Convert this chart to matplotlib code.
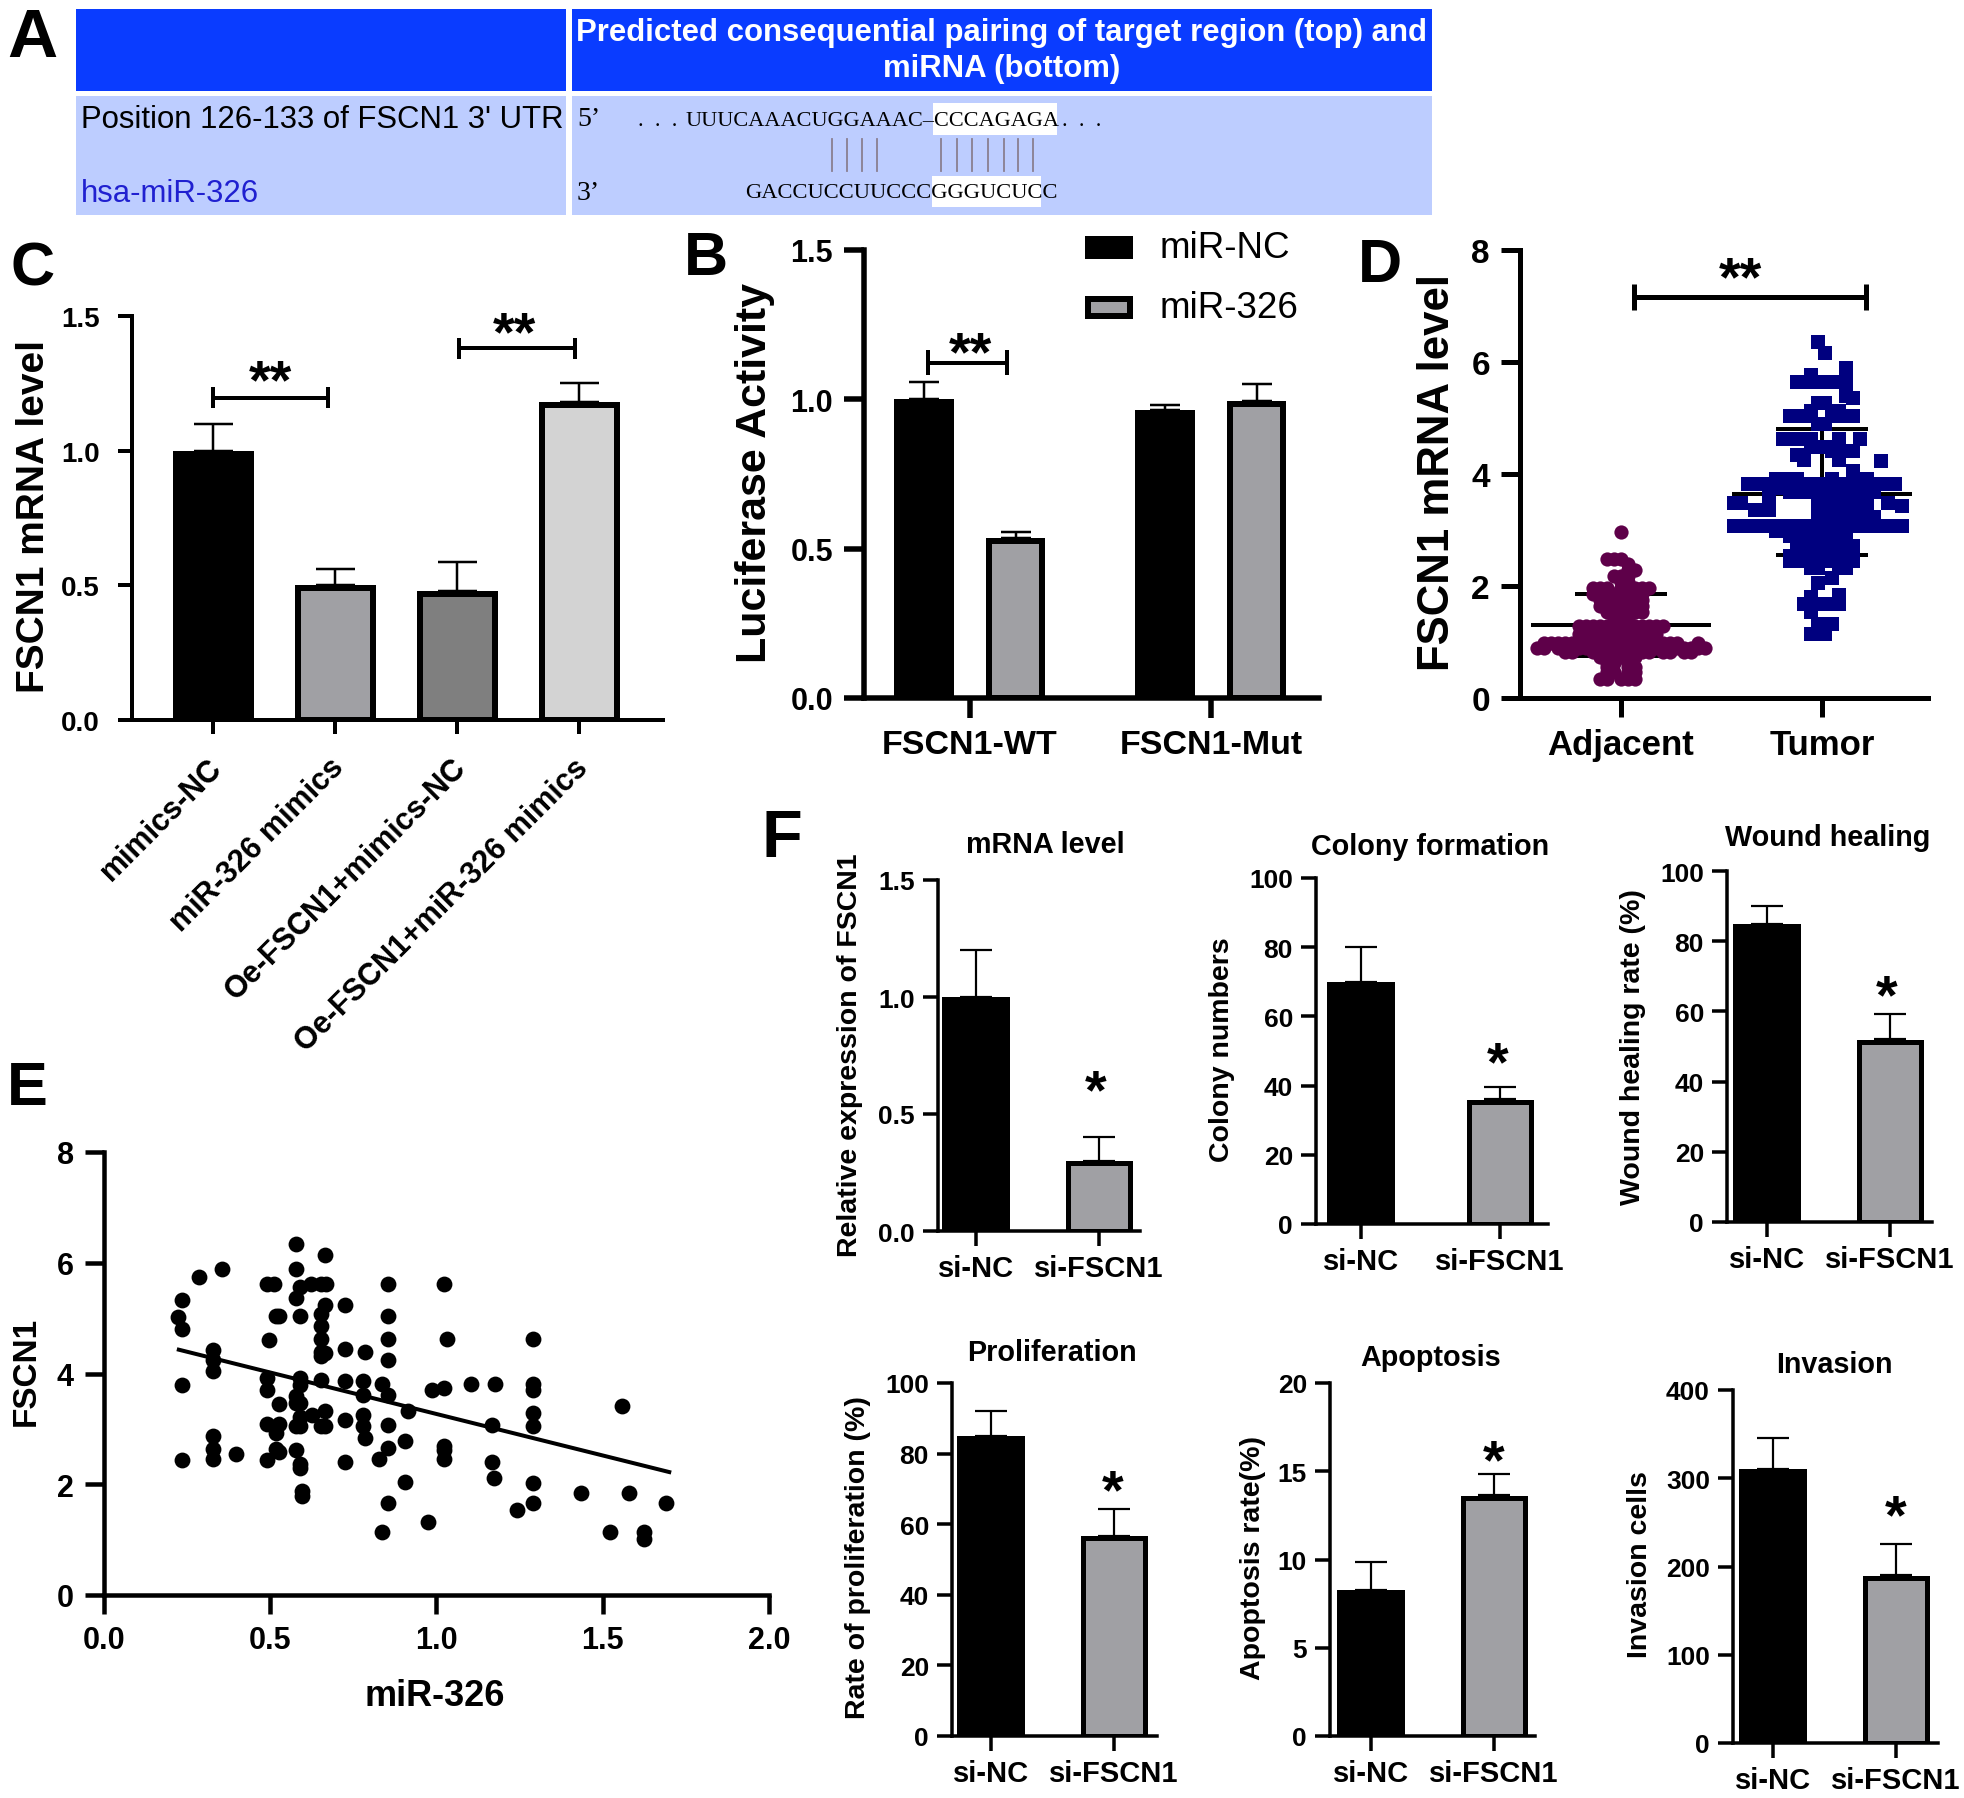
import matplotlib
matplotlib.use("Agg")
import matplotlib.pyplot as plt
from matplotlib.patches import Rectangle
from matplotlib.transforms import ScaledTranslation
import numpy as np

W, H = 1965, 1799
PX = 0.72  # one pixel in points at dpi 100

plt.rcParams['font.family'] = ['Liberation Sans', 'DejaVu Sans']

# panel C
c_labels = ['mimics-NC', 'miR-326 mimics', 'Oe-FSCN1+mimics-NC', 'Oe-FSCN1+miR-326 mimics']
c_vals = [1.0, 0.5, 0.48, 1.18]
c_tops = [1.10, 0.56, 0.585, 1.25]
c_colors = ['black', '#a0a0a4', '#7f7f7f', '#d3d3d3']

# panel B
b_groups = ['FSCN1-WT', 'FSCN1-Mut']
b_nc = [1.0, 0.965]
b_nc_tops = [1.057, 0.98]
b_326 = [0.535, 0.995]
b_326_tops = [0.556, 1.05]

# panel D, rows of the swarm: value and the slots (sideways places) taken in that row
d_labels = ['Adjacent', 'Tumor']
adj_levels = [2.97, 2.48, 2.39, 2.29, 2.18, 2.07, 1.96, 1.86, 1.75, 1.64, 1.53, 1.41, 1.29, 1.2, 1.14, 1.05, 0.99, 0.9,
              0.82, 0.73, 0.62, 0.55, 0.46, 0.34]
adj_slots = [[0], [-2, -1, 0], [1], [1, 2], [-1, 0, 1], [0, 1], [-4, -3, -2, 0, 1, 2, 3, 4], [-4, -2, -1, 0, 1, 2, 3],
             [-3, -1, 0, 1, 2, 3], [-3, -2, -1, 0, 1, 2, 3], [-2, -1, 0, 1, 2, 3], [-1, 0, 1],
             [-6, -5, -4, -3, -2, -1, 0, 1, 2, 3, 4, 5, 6], [-4, -3, -2, -1, 0, 1, 2, 3],
             [-6, -5, -4, -3, -2, -1, 0, 1, 2, 3, 4, 5], [-5, -4, -3, -2, -1, 0, 1, 2, 3, 4],
             [-11, -10, -9, -8, -7, -6, -5, -4, -3, -2, -1, 0, 1, 2, 3, 4, 5, 6, 7, 8, 11],
             [-12, -11, -9, -8, -7, -6, -5, -4, -3, -2, -1, 0, 1, 2, 3, 4, 5, 6, 7, 8, 9, 10, 11, 12],
             [-8, -7, -4, -3, -2, -1, 0, 1, 2, 3, 4, 6, 7, 9, 10], [-3, -2, -1, 0, 1, 2], [-2, -1, 1],
             [-2, 1, 2], [-2, -1, 1, 2], [-3, -2, 0, 1, 2]]
adj_stats = [0.75, 1.3, 1.85]
tum_levels = [6.35, 6.16, 5.9, 5.77, 5.64, 5.39, 5.35, 5.26, 5.13, 5.03, 4.9, 4.63, 4.49, 4.41, 4.34, 4.25, 4.24,
              4.06, 3.91, 3.82, 3.75, 3.67, 3.55, 3.49, 3.43, 3.35, 3.23, 3.08, 2.99, 2.9, 2.84, 2.72, 2.6, 2.53,
              2.45, 2.33, 2.14, 2.05, 1.84, 1.8, 1.68, 1.53, 1.33, 1.14]
tum_slots = [[0], [1], [4], [-1], [-3, -2, -1, 0, 1, 2, 3, 4], [4], [5], [0, 1], [-1, 3],
             [-4, -3, -2, -1, 2, 3, 4, 5], [0, 1], [-5, -4, -3, -2, -1, 3, 6], [-1, 0, 2], [2, 3, 4, 5],
             [-3, -2], [-2, 3], [9], [5], [-6, -5, -3, 2, 5, 6, 7],
             [-10, -9, -8, -7, -6, -5, -4, -3, -2, -1, 0, 1, 2, 3, 4, 5, 6, 7, 8, 9, 11],
             [-7, -6, -5, -4, -3, -2, -1, 0, 1, 2, 3, 4, 5, 6, 7, 8],
             [-4, -3, -2, -1, 0, 1, 2, 3, 4, 5, 6, 7, 8], [-7, 0, 1, 2, 3, 4, 5, 6, 7],
             [-12, -11, -7, 0, 1, 2, 3, 4, 5, 6, 7, 10], [12],
             [-9, -7, 0, 1, 2, 3, 4, 5, 6], [0, 1, 2, 3, 4, 5, 6, 7, 8],
             [-12, -11, -10, -9, -8, -7, -6, -5, -4, -3, -2, -1, 0, 1, 2, 3, 4, 5, 6, 7, 8, 9, 10, 11, 12],
             [-6, -5, -4, -3, -2, -1, 0, 1, 2, 3, 4], [-4, -3, -2, -1, 0, 1, 2, 3, 4],
             [-3, -2, -1, 0, 1, 2, 3], [-2, -1, 0, 1, 3, 4, 5],
             [-3, -2, -1, 0, 1, 2, 3, 4, 5], [-4, -3, -2, -1, 0, 1, 2, 3, 4, 5],
             [-4, -3, -2, -1, 0, 1, 2, 3, 4, 5], [-1, 0, 3, 4],
             [2], [0], [3], [-1], [-2, -1, 1, 2, 3], [-1], [0, 2], [-1, 0, 1]]
tum_stats = [2.55, 3.65, 4.8]

# panel E
e_x = [.222, .236, .236, .287, .356, .236, .236, .328, .328, .328, .328, .328, .328, .396, .489, .511,
       .525, .517, .495, .489, .489, .525, .489, .525, .517, .517, .525, .489, .578, .578, .589, .578,
       .589, .589, .589, .578, .578, .589, .589, .578, .589, .578, .589, .589, .594, .594, .624, .627,
       .652, .667, .666, .666, .652, .652, .652, .652, .652, .666, .652, .666, .652, .666, .725, .725,
       .725, .725, .725, .785, .779, .779, .779, .779, .785, .827, .836, .836, .854, .854, .854, .854,
       .854, .854, .854, .854, .905, .905, .913, .974, .985, 1.023, 1.031, 1.023, 1.023, 1.023, 1.023,
       1.103, 1.166, 1.166, 1.172, 1.176, 1.242, 1.291, 1.291, 1.291, 1.291, 1.291, 1.291, 1.291, 1.434,
       1.521, 1.557, 1.578, 1.624, 1.624, 1.69]
e_y = [5.02, 5.32, 4.81, 5.75, 5.88, 3.79, 2.43, 4.43, 4.25, 4.04, 2.87, 2.64, 2.45, 2.55, 5.62, 5.62,
       5.04, 5.04, 4.61, 3.91, 3.71, 3.45, 3.09, 3.08, 2.93, 2.64, 2.59, 2.43, 6.34, 5.88, 5.57, 5.36,
       5.04, 3.91, 3.79, 3.6, 3.46, 3.46, 3.21, 3.06, 3.06, 2.62, 2.36, 2.3, 1.88, 1.79, 5.62, 3.25,
       5.62, 5.62, 6.14, 5.23, 5.07, 4.86, 4.62, 4.39, 4.32, 4.37, 3.88, 3.32, 3.06, 3.06, 5.23, 4.45,
       3.86, 3.16, 2.41, 4.38, 3.86, 3.61, 3.25, 3.06, 2.84, 2.45, 3.81, 1.13, 5.62, 5.04, 4.62, 4.25,
       3.61, 3.07, 2.66, 1.66, 2.79, 2.04, 3.32, 1.32, 3.71, 5.62, 4.62, 3.74, 2.69, 2.61, 2.45,
       3.81, 3.07, 2.41, 2.12, 3.81, 1.54, 4.62, 3.81, 3.71, 3.29, 3.06, 2.02, 1.66, 1.84,
       1.13, 3.42, 1.84, 1.14, 1.02, 1.66]
e_fit_x = [0.225, 1.70]
e_fit_y = [4.43, 2.22]

# panel F
f_labels = ['si-NC', 'si-FSCN1']
mrna_vals, mrna_tops = [1.0, 0.3], [1.2, 0.4]
colony_vals, colony_tops = [70, 36], [80, 39.7]
wound_vals, wound_tops = [85, 52], [90, 59.3]
prolif_vals, prolif_tops = [85, 56.7], [92, 64.2]
apop_vals, apop_tops = [8.3, 13.65], [9.85, 14.85]
inv_vals, inv_tops = [310, 190], [346, 226]

fig = plt.figure(figsize=(W / 100, H / 100), dpi=100, facecolor='white')

# overlay in image pixels, for the table and the loose labels
bg = fig.add_axes([0, 0, 1, 1])
bg.set_xlim(0, W)
bg.set_ylim(H, 0)
bg.axis('off')


def panel_axes(left, right, y0, ytop, ymax, x_first, x_step):
    # axes whose frame sits on the given pixels, x in units of x_step px from x_first
    ax = fig.add_axes([left / W, 1 - y0 / H, (right - left) / W, (y0 - ytop) / H])
    ax.patch.set_alpha(0)
    ax.set_ylim(0, ymax)
    ax.set_xlim((left - x_first) / x_step, (right - x_first) / x_step)
    for s in ['top', 'right']:
        ax.spines[s].set_visible(False)
    return ax


def style(ax, lw, ticklen, size, pad, weight='bold', xsize=None):
    for s in ['left', 'bottom']:
        ax.spines[s].set_linewidth(lw * PX)
    ax.tick_params(width=lw * PX, length=ticklen * PX, pad=pad * PX, labelsize=size)
    ax.tick_params(axis='x', labelsize=xsize or size)
    for t in ax.get_xticklabels() + ax.get_yticklabels():
        t.set_fontweight(weight)


def bar(ax, x, val, top, color, width, edge=0, cap=38, elw=2.5):
    # the edge is centred on the rectangle, keep its outer side on the value
    per_px = ax.get_ylim()[1] / ax.get_window_extent().height
    ax.bar(x, val - edge / 2 * per_px, width=width, color=color, edgecolor='black', linewidth=edge * PX, zorder=3)
    ax.errorbar(x, val, yerr=[[0], [top - val]], color='black', elinewidth=elw * PX,
                capsize=cap / 2 * PX, capthick=elw * PX, zorder=2)


def bracket(ax, x0, x1, y, tick, lw=4):
    # tick is half height in axis units
    ax.plot([x0, x1], [y, y], color='black', lw=lw * PX, solid_capstyle='butt', clip_on=False)
    for x in (x0, x1):
        ax.plot([x, x], [y - tick, y + tick], color='black', lw=lw * PX, solid_capstyle='butt', clip_on=False)


def stars(x, y, s, size=40):
    bg.text(x, y, s, fontsize=size, ha='center', va='center', fontweight='bold')


def letter(x, y, s, size=44):
    bg.text(x, y, s, fontsize=size, fontweight='bold', ha='left', va='baseline')


def ylab(x, y, s, size, weight='bold'):
    bg.text(x, y, s, fontsize=size, rotation=90, ha='center', va='center', fontweight=weight)


# panel A, the table
bg.add_patch(Rectangle((76, 10), 490, 82, color='#0a3cff', lw=0))
bg.add_patch(Rectangle((572, 10), 860, 82, color='#0a3cff', lw=0))
bg.add_patch(Rectangle((76, 97), 490, 119, color='#bdcdff', lw=0))
bg.add_patch(Rectangle((572, 97), 860, 119, color='#bdcdff', lw=0))
bg.add_patch(Rectangle((933, 104), 124, 32, color='white', lw=0))
bg.add_patch(Rectangle((932, 177), 109, 31, color='white', lw=0))
bg.text(1002, 33, 'Predicted consequential pairing of target region (top) and', color='white',
        fontsize=22.4, fontweight='bold', ha='center', va='center')
bg.text(1002, 69, 'miRNA (bottom)', color='white', fontsize=22.4, fontweight='bold', ha='center', va='center')
bg.text(81, 120, "Position 126-133 of FSCN1 3' UTR", fontsize=22.4, ha='left', va='center')
bg.text(81, 194, 'hsa-miR-326', fontsize=22.4, color='#2020d0', ha='left', va='center')
bg.text(577, 120, "5’", fontsize=20, family='Liberation Serif', ha='left', va='center')
bg.text(577, 194, "3’", fontsize=20, family='Liberation Serif', ha='left', va='center')
bg.text(638, 122, '.  .  .', fontsize=16, family='Liberation Serif', ha='left', va='center')
bg.text(686, 122, 'UUUCAAACUGGAAAC–CCCAGAGA', fontsize=16, family='Liberation Serif', ha='left', va='center')
bg.text(1062, 122, '.  .  .', fontsize=16, family='Liberation Serif', ha='left', va='center')
bg.text(745, 194, 'GACCUCCUUCCCGGGUCUCC', fontsize=16.2, family='Liberation Serif', ha='left', va='center')
for x in [832, 847, 862, 877, 941, 957, 972, 988, 1004, 1018, 1033]:
    bg.plot([x, x], [140, 172], color='#8a7f90', lw=1.3)

# panel C
ax = panel_axes(132, 663, 721, 317, 1.5, 213, 122)
for i in range(4):
    edge = 0 if i == 0 else 6
    bar(ax, i, c_vals[i], c_tops[i], c_colors[i], (81 - edge) / 122, edge=edge, cap=39)
ax.set_xticks(range(4))
ax.set_xticklabels(c_labels, rotation=45, ha='right', rotation_mode='anchor')
ax.set_yticks([0, 0.5, 1.0, 1.5])
ax.set_yticklabels(['0.0', '0.5', '1.0', '1.5'])
style(ax, 4, 14, 20, 18, xsize=22)
for t in ax.get_xticklabels():
    t.set_transform(t.get_transform() + ScaledTranslation(-6 / 100, 0, fig.dpi_scale_trans))
bracket(ax, 0, 0.94, 1.197, 0.04)
bracket(ax, 2.02, 2.97, 1.38, 0.04)
stars(270, 384, '**')
stars(514, 336, '**')
ylab(34, 517, 'FSCN1 mRNA level', 28)

# panel B
ax = panel_axes(864, 1319, 699, 251, 1.5, 970, 241)
for i in range(2):
    bar(ax, i - 0.19, b_nc[i], b_nc_tops[i], 'black', 60 / 241, cap=30)
    bar(ax, i + 0.19, b_326[i], b_326_tops[i], '#a0a0a4', 53 / 241, edge=6, cap=30)
ax.set_xticks([0, 1])
ax.set_xticklabels(b_groups)
ax.set_yticks([0, 0.5, 1.0, 1.5])
ax.set_yticklabels(['0.0', '0.5', '1.0', '1.5'])
style(ax, 5.5, 20, 22, 11, xsize=24.5)
bracket(ax, -0.174, 0.154, 1.123, 0.043)
stars(970, 356, '**')
ylab(755, 473, 'Luciferase Activity', 31)
bg.add_patch(Rectangle((1085, 237), 48, 23, color='black', lw=0))
bg.add_patch(Rectangle((1088, 300), 42, 17, facecolor='#a0a0a4', edgecolor='black', lw=6 * PX))
bg.text(1160, 249, 'miR-NC', fontsize=26.5, ha='left', va='center')
bg.text(1160, 309, 'miR-326', fontsize=26.5, ha='left', va='center')


def swarm(levels, slots, step):
    xs, ys = [], []
    for lev, row in zip(levels, slots):
        for k in row:
            xs.append(k * step)
            ys.append(lev)
    return np.array(xs), np.array(ys)


# panel D
ax = panel_axes(1520, 1928, 699, 251, 8, 1621, 201)
for i, st in enumerate([adj_stats, tum_stats]):
    ax.plot([i, i], [st[0], st[2]], color='black', lw=4 * PX, zorder=1)
    ax.plot([i - 0.44, i + 0.44], [st[1], st[1]], color='black', lw=4 * PX, zorder=1)
    for v in (st[0], st[2]):
        ax.plot([i - 0.22, i + 0.22], [v, v], color='black', lw=4 * PX, zorder=1)
xs, ys = swarm(adj_levels, adj_slots, 0.0348)
ax.scatter(xs, ys, s=105, marker='o', color='#5e0049', linewidths=0, zorder=2, clip_on=False)
xs, ys = swarm(tum_levels, tum_slots, 0.0348)
ax.scatter(xs + 1 - 0.02, ys, s=105, marker='s', color='#00007f', linewidths=0, zorder=2, clip_on=False)
ax.set_xticks([0, 1])
ax.set_xticklabels(d_labels)
ax.set_yticks([0, 2, 4, 6, 8])
style(ax, 5, 19, 24, 11, xsize=25)
bracket(ax, 0.065, 1.22, 7.16, 0.23, lw=5)
stars(1740, 281, '**')
ylab(1438, 473, 'FSCN1 mRNA level', 31.5)

# panel E
ax = panel_axes(104, 769, 1596, 1153, 8, 104, 332.5)
ax.scatter(e_x, e_y, s=130, color='black', linewidths=0, zorder=3)
ax.plot(e_fit_x, e_fit_y, color='black', lw=4 * PX, zorder=2)
ax.set_xticks([0, 0.5, 1.0, 1.5, 2.0])
ax.set_yticks([0, 2, 4, 6, 8])
ax.set_xticklabels(['0.0', '0.5', '1.0', '1.5', '2.0'])
style(ax, 4.5, 19, 22, 11)
bg.text(435, 1697, 'miR-326', fontsize=26, fontweight='bold', ha='center', va='center')
ylab(26, 1371, 'FSCN1', 24)

# panel F
f_panels = [
    (938, 1140, 1232, 881, 1.5, 976, 123, [0, .5, 1, 1.5], ['0.0', '0.5', '1.0', '1.5'], mrna_vals, mrna_tops, 'mRNA level', 1045, 845, (1096, 1094), 'Relative expression of FSCN1', 850, 1055),
    (1316, 1548, 1225, 879, 100, 1361, 139, [0, 20, 40, 60, 80, 100], None, colony_vals, colony_tops, 'Colony formation', 1430, 847, (1498, 1066), 'Colony numbers', 1222, 1050),
    (1727, 1932, 1223, 872, 100, 1767, 123, [0, 20, 40, 60, 80, 100], None, wound_vals, wound_tops, 'Wound healing', 1828, 838, (1887, 999), 'Wound healing rate (%)', 1633, 1047),
    (952, 1157, 1737, 1384, 100, 991, 123, [0, 20, 40, 60, 80, 100], None, prolif_vals, prolif_tops, 'Proliferation', 1052, 1353, (1113, 1494), 'Rate of proliferation (%)', 858, 1558),
    (1330, 1535, 1737, 1384, 20, 1371, 123, [0, 5, 10, 15, 20], None, apop_vals, apop_tops, 'Apoptosis', 1431, 1358, (1494, 1464), 'Apoptosis rate(%)', 1253, 1558),
    (1733, 1938, 1744, 1391, 400, 1773, 123, [0, 100, 200, 300, 400], None, inv_vals, inv_tops, 'Invasion', 1834, 1365, (1896, 1519), 'Invasion cells', 1640, 1565),
]
for left, right, y0, ytop, ymax, x_first, step, yt, ytl, vals, tops, title, tx, ty, star, yl, yx, yy in f_panels:
    ax = panel_axes(left, right, y0, ytop, ymax, x_first, step)
    bar(ax, 0, vals[0], tops[0], 'black', 68 / step, cap=32, elw=2.2)
    bar(ax, 1, vals[1], tops[1], '#a0a0a4', 62 / step, edge=5, cap=32, elw=2.2)
    ax.set_xticks([0, 1])
    ax.set_xticklabels(f_labels)
    ax.set_yticks(yt)
    if ytl:
        ax.set_yticklabels(ytl)
    style(ax, 3.5, 15, 19, 8, xsize=21)
    bg.text(tx, ty, title, fontsize=20.7, fontweight='bold', ha='center', va='center')
    stars(star[0], star[1], '*', size=40)
    ylab(yx, yy, yl, 20.5)

letter(7, 57, 'A', 50)
letter(11, 286, 'C')
letter(684, 275, 'B')
letter(1358, 282, 'D')
letter(7, 1105, 'E')
letter(762, 857, 'F', 48)

fig.savefig('out.png', dpi=100, facecolor='white')
